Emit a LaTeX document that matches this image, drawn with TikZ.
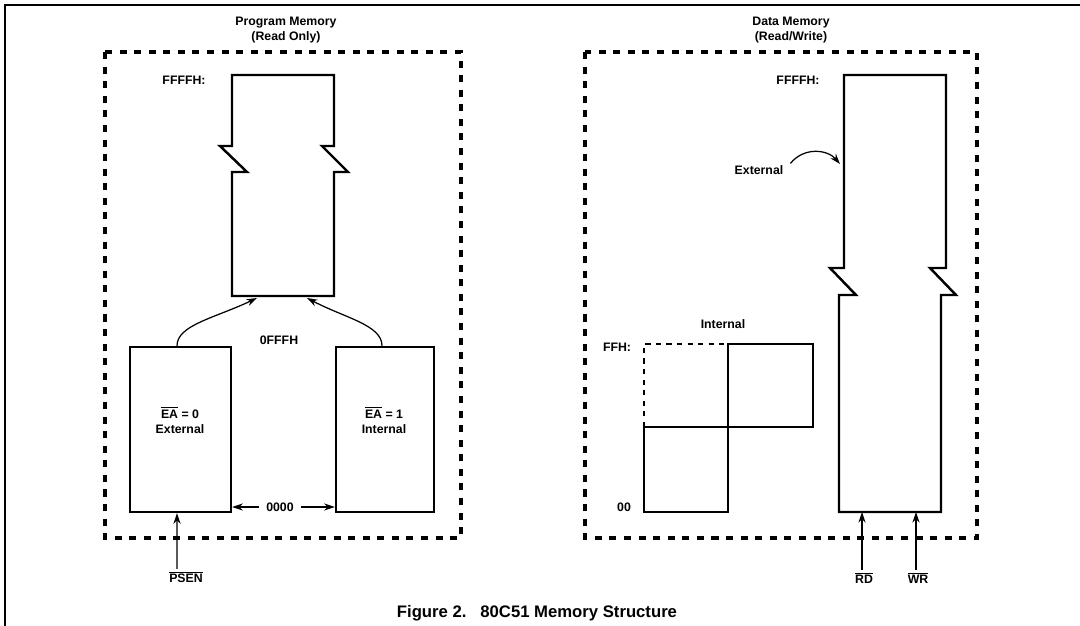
\documentclass[tikz,border=0pt]{standalone}
\usepackage{fontspec}
\setmainfont{Liberation Sans}
\usetikzlibrary{arrows.meta}
\newcommand{\barsig}[1]{$\overline{\mbox{#1}}$}
\begin{document}
\begin{tikzpicture}[x=0.02cm,y=-0.02cm,>={Stealth[length=6pt,width=4pt]},
        lbl/.style={font=\bfseries\fontsize{7}{8.5}\selectfont,inner sep=1pt,align=center},
        blk/.style={line width=1.4pt,line join=miter},
        zone/.style={line width=2pt,dash pattern=on 4pt off 4.3pt},
        sig/.style={->,line width=0.7pt},
    ]
        \useasboundingbox (0,0) rectangle (1080,626);
        % page frame
        \draw[line width=1.3pt] (5,626) -- (5,5) -- (1080,5);
        % program memory
        \node[lbl] (pmtitle) at (286,30) {Program Memory\\(Read Only)};
        \draw[zone] (105,52) rectangle (461,538);
        \node[lbl] (pmtop) at (184,80) {FFFFH:};
        \draw[blk] (232,296) -- (232,172) -- (247,172) -- (220,146) -- (232,146) -- (232,75)
            -- (334,75) -- (334,146) -- (322,146) -- (348,172) -- (334,172) -- (334,296) -- cycle;
        \coordinate (pmin1) at (257,298);
        \coordinate (pmin2) at (307,298);
        \node[blk,draw,minimum width=2.02cm,minimum height=3.3cm] (extbox) at (180.5,429.5) {};
        \node[blk,draw,minimum width=1.96cm,minimum height=3.3cm] (intbox) at (385,429.5) {};
        \node[lbl] (exttxt) at (180,420) {\barsig{EA} = 0\\External};
        \node[lbl] (inttxt) at (384,420) {\barsig{EA} = 1\\Internal};
        \node[lbl] (offfh) at (279,340) {0FFFH};
        \node[lbl,inner sep=4pt] (zero) at (280,507) {0000};
        \draw[sig] ([xshift=-0.07cm]extbox.north) .. controls (177,325) and (215,318) .. (pmin1);
        \draw[sig] ([xshift=-0.06cm]intbox.north) .. controls (382,325) and (345,318) .. (pmin2);
        \draw[sig] (zero.west) -- (zero.west -| extbox.east);
        \draw[sig] (zero.east) -- (zero.east -| intbox.west);
        \node[lbl] (psen) at (186,577) {\barsig{PSEN}};
        \draw[sig] ([xshift=-0.18cm]psen.north) -- ([xshift=-0.07cm]extbox.south);
        % data memory
        \node[lbl] (dmtitle) at (791,30) {Data Memory\\(Read/Write)};
        \draw[zone] (585,52) rectangle (977,538);
        \node[lbl] (dmtop) at (798,80) {FFFFH:};
        \draw[blk] (844,75) -- (946,75) -- (946,268) -- (930,268) -- (956,295) -- (941,295)
            -- (941,512) -- (839,512) -- (839,295) -- (856,295) -- (830,268) -- (844,268) -- cycle;
        \coordinate (dmext) at (840,164);
        \node[lbl] (exttag) at (759,170) {External};
        \draw[sig] ([xshift=0.1cm]exttag.north east) .. controls (805,146) and (828,150) .. (dmext);
        \node[lbl] (inttag) at (723,324) {Internal};
        \node[lbl] (ffh) at (617,347) {FFH:};
        \node[lbl] (nul) at (624,507) {00};
        \draw[blk] (728,427) rectangle (813,344);
        \draw[blk] (644,427) rectangle (728,512);
        \draw[line width=1.3pt,dash pattern=on 3pt off 3pt] (644,427) -- (644,344) -- (728,344);
        \node[lbl] (rd) at (864,578) {\barsig{RD}};
        \node[lbl] (wr) at (918,578) {\barsig{WR}};
        \draw[sig] ([xshift=-0.04cm]rd.north) -- ([xshift=-0.04cm]rd.north |- 0,512);
        \draw[sig] ([xshift=-0.04cm]wr.north) -- ([xshift=-0.04cm]wr.north |- 0,512);
        % caption
        \node[font=\bfseries\fontsize{9.5}{11}\selectfont] (caption) at (537,613) {Figure 2.\ \ \ 80C51 Memory Structure};
    \end{tikzpicture}
\end{document}
